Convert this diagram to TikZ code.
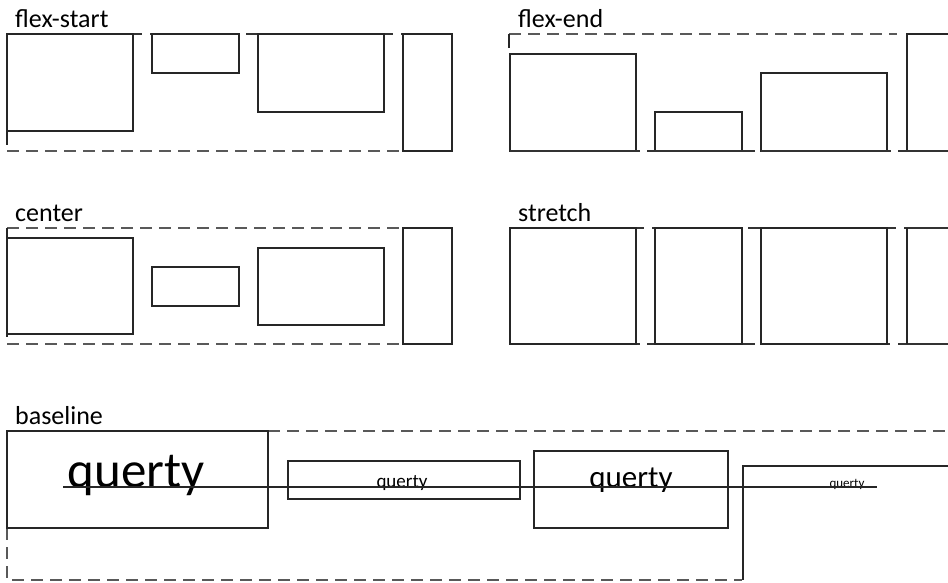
\documentclass[tikz,border=0pt]{standalone}
\usepackage{fontspec}
\setmainfont{Carlito}
\begin{document}
\begin{tikzpicture}[x=1pt, y=-1pt,
    box/.style={line width=1.8pt, black!85},
    edge/.style={line width=1.8pt, black!80},
    guide/.style={line width=1.8pt, black!65, dash pattern=on 12pt off 7pt},
    title/.style={font=\fontsize{26}{28}\selectfont, anchor=base west, inner sep=0pt},
    word/.style={anchor=base, inner sep=0pt}]

    \useasboundingbox (0,0) rectangle (948,582);

    % --- flex-start ---
    \node[title] (fsTitle) at (15,27) {flex-start};
    \draw[edge] (7,34) -- (142,34) (150,34) -- (240,34) (246,34) -- (393,34) (401,34) -- (452,34);
    \draw[box] (7,34) rectangle (133,131);
    \draw[box] (7,131) -- (7,145);
    \draw[box] (152,34) rectangle (239,73);
    \draw[box] (258,34) rectangle (384,112);
    \draw[box] (403,34) rectangle (452,151);
    \draw[guide] (7,151) -- (403,151);

    % --- flex-end ---
    \node[title] (feTitle) at (518,27) {flex-end};
    \draw[guide] (509,34) -- (897,34);
    \draw[box] (509,34) -- (509,48);
    \draw[box] (510,54) rectangle (636,151);
    \draw[box] (655,112) rectangle (742,151);
    \draw[box] (761,73) rectangle (887,151);
    \draw[box] (948,34) -- (907,34) -- (907,151);
    \draw[edge] (510,151) -- (640,151) (647,151) -- (755,151) (761,151) -- (891,151) (898,151) -- (948,151);

    % --- center ---
    \node[title] (ceTitle) at (15,221) {center};
    \draw[guide] (7,228) -- (403,228);
    \draw[guide] (7,344) -- (403,344);
    \draw[box] (7,228) -- (7,337);
    \draw[box] (7,238) rectangle (133,334);
    \draw[box] (152,267) rectangle (239,306);
    \draw[box] (258,248) rectangle (384,325);
    \draw[box] (403,228) rectangle (452,344);

    % --- stretch ---
    \node[title] (stTitle) at (518,221) {stretch};
    \draw[edge] (510,228) -- (644,228) (652,228) -- (742,228) (748,228) -- (896,228) (904,228) -- (948,228);
    \draw[edge] (510,344) -- (640,344) (647,344) -- (755,344) (761,344) -- (890,344) (898,344) -- (948,344);
    \draw[box] (510,228) rectangle (636,344);
    \draw[box] (655,228) rectangle (742,344);
    \draw[box] (761,228) rectangle (887,344);
    \draw[box] (907,228) -- (907,344);

    % --- baseline ---
    \node[title] (baTitle) at (15,424) {baseline};
    \draw[guide] (268,431) -- (948,431);
    \draw[guide] (7,528) -- (7,580) -- (742,580);
    \draw[box] (7,431) rectangle (268,528);
    \draw[box] (288,461) rectangle (520,499);
    \draw[box] (534,451) rectangle (728,528);
    \draw[box] (948,466) -- (743,466) -- (743,580);

    % Chữ "querty" cùng đường cơ sở y = 487
    \node[word, font=\fontsize{51}{52}\selectfont] (qBig) at (136,487) {querty};
    \node[word, font=\fontsize{19}{20}\selectfont] (qSmall) at (402,487) {querty};
    \node[word, font=\fontsize{31}{32}\selectfont] (qMid) at (631,487) {querty};
    \node[word, font=\fontsize{13}{14}\selectfont] (qTiny) at (847,487) {querty};
    \draw[line width=1.4pt, black!85] (63,487) -- (877,487);
\end{tikzpicture}
\end{document}
